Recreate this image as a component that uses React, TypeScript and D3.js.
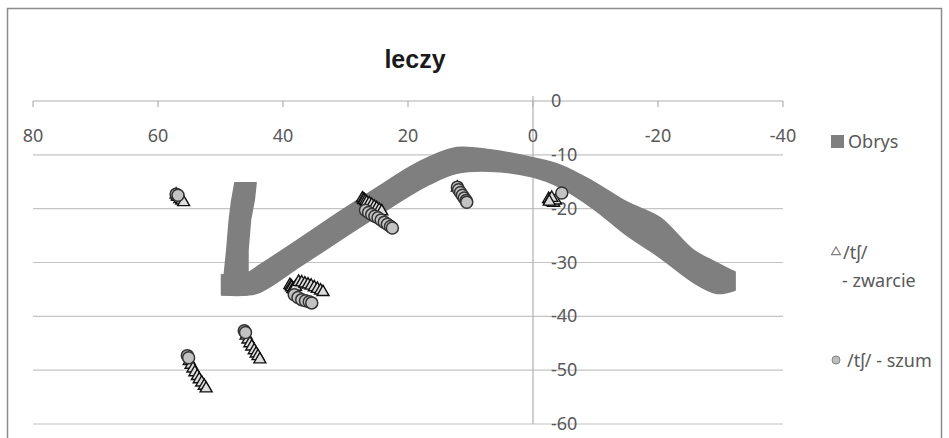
import * as d3 from 'd3'

const W = 949
const H = 438

// axis ticks
const xTicks = [80, 60, 40, 20, 0, -20, -40]
const yTicks = [0, -10, -20, -30, -40, -50, -60]

// Obrys – tongue contour band (x, upper edge, lower edge)
const obrysX = [49.8, 45.8, 43.7, 37.3, 30.9, 24.5, 19.7, 16.5, 12.2, 6.9, 0, -4.3, -9.6, -15.0, -20.3, -25.6, -29.4, -32.3]
const obrysTop = [-32.3, -32.0, -30.5, -25.6, -20.6, -15.8, -12.3, -10.4, -8.7, -9.1, -10.6, -11.9, -15.0, -18.8, -21.7, -27.7, -30.1, -31.8]
const obrysBottom = [-36.0, -36.0, -35.5, -30.7, -25.8, -21.0, -17.5, -15.4, -13.4, -13.0, -14.1, -16.0, -19.9, -24.9, -29.0, -33.6, -35.7, -35.1]

// Obrys – vertical arm (y, left edge, right edge)
const armY = [-15.2, -18.4, -22.1, -27.7, -32.3, -36.0]
const armLeft = [47.7, 48.2, 48.6, 49.0, 49.4, 49.8]
const armRight = [44.3, 44.6, 45.2, 45.6, 45.6, 45.6]

// /tʃ/ - zwarcie (triangles)
const zwarcie: [number, number][] = [
  [57.1, -17.4], [56.9, -17.7], [56.8, -17.8], [56.5, -18.2], [56.2, -18.5], [55.9, -18.8],
  [45.9, -43.6], [45.6, -44.3], [45.3, -45.0], [45.0, -45.6], [44.6, -46.3], [44.3, -46.9], [44.0, -47.4], [43.7, -48.0],
  [55.0, -48.3], [54.7, -49.0], [54.4, -49.7], [54.1, -50.4], [53.7, -51.1], [53.4, -51.7], [53.0, -52.3], [52.6, -52.9], [52.3, -53.4],
  [38.9, -34.2], [38.7, -34.4], [38.6, -34.6], [38.4, -34.9], [38.3, -35.0], [38.0, -34.5], [37.5, -33.6], [37.0, -33.7], [36.5, -33.9], [36.0, -34.1],
  [35.5, -34.3], [35.0, -34.6], [34.5, -34.9], [34.0, -35.2], [33.6, -35.5],
  [27.3, -18.1], [27.1, -18.3], [27.0, -18.4], [26.8, -18.6], [26.6, -18.8], [26.2, -19.0], [25.8, -19.3], [25.4, -19.6], [25.0, -19.9], [24.6, -20.2], [24.2, -20.5],
  [12.1, -16.1],
  [-2.5, -18.2], [-2.7, -18.4], [-2.9, -18.6], [-3.1, -18.8], [-3.3, -18.9], [-3.6, -18.5], [-3.0, -18.0], [-2.6, -18.7],
]

// /tʃ/ - szum (circles)
const szum: [number, number][] = [
  [57.1, -17.3], [56.8, -17.5],
  [46.2, -42.7], [46.0, -43.0],
  [55.3, -47.3], [55.1, -47.7],
  [38.2, -36.0], [37.6, -36.5], [37.0, -36.9], [36.4, -37.1], [35.8, -37.3], [35.4, -37.5],
  [26.8, -20.3], [26.3, -20.7], [25.8, -21.1], [25.3, -21.4], [24.8, -21.7], [24.3, -22.1], [23.8, -22.5], [23.3, -22.9], [22.8, -23.3], [22.5, -23.6],
  [12.1, -16.0], [11.9, -16.5], [11.6, -17.0], [11.3, -17.5], [11.0, -18.0], [10.7, -18.5], [10.6, -18.8],
  [-4.6, -17.1],
]

const FONT = '"Noto Sans", "Open Sans", sans-serif'
const LABEL = '#595959'
const GRID = '#c4c4c4'

export default function App() {
  const x = d3.scaleLinear().domain([80, -40]).range([33, 783])
  const y = d3.scaleLinear().domain([0, -60]).range([101, 424])

  const band = d3.area<number>()
    .x((_, i) => x(obrysX[i]))
    .y0((_, i) => y(obrysBottom[i]))
    .y1((_, i) => y(obrysTop[i]))
    .curve(d3.curveCatmullRom.alpha(0.5))
  const arm = d3.area<number>()
    .y((_, i) => y(armY[i]))
    .x0((_, i) => x(armLeft[i]))
    .x1((_, i) => x(armRight[i]))
    .curve(d3.curveLinear)

  const tri = d3.symbol().type(d3.symbolTriangle).size(62)()
  const legendTri = d3.symbol().type(d3.symbolTriangle).size(34)()

  return (
    <svg width={W} height={H} style={{ position: 'absolute', left: 0, top: 0, background: '#fff' }}>
      <rect x={7.5} y={8.5} width={934} height={440} fill="#fff" stroke="#8c8c8c" strokeWidth={1.5} />

      <text x={415} y={68} textAnchor="middle" fontFamily='"Liberation Sans", Arial, sans-serif'
        fontWeight="bold" fontSize={25} fill="#1a1a1a">leczy</text>

      {/* gridlines */}
      {yTicks.filter(t => t !== 0).map(t => (
        <line key={t} x1={x(80)} x2={x(-40)} y1={y(t)} y2={y(t)} stroke={GRID} strokeWidth={1.2} />
      ))}
      {/* x axis */}
      <line x1={x(80)} x2={x(-40)} y1={y(0)} y2={y(0)} stroke="#b0b0b0" strokeWidth={1.2} />
      {xTicks.map(t => (
        <line key={t} x1={x(t)} x2={x(t)} y1={y(0)} y2={y(0) + 6} stroke="#b0b0b0" strokeWidth={1.2} />
      ))}
      {/* y axis */}
      <line x1={x(0)} x2={x(0)} y1={y(0) - 5} y2={y(-60)} stroke="#b0b0b0" strokeWidth={1.2} />

      {xTicks.map(t => (
        <text key={t} x={x(t)} y={142} textAnchor="middle" fontFamily={FONT} fontSize={18} fill={LABEL}>{t}</text>
      ))}

      {/* Obrys */}
      <path d={arm(armY.map((_, i) => i)) ?? ''} fill="#7f7f7f" stroke="#7f7f7f" strokeWidth={1.5} strokeLinejoin="round" />
      <path d={band(obrysX.map((_, i) => i)) ?? ''} fill="#7f7f7f" stroke="#7f7f7f" strokeWidth={2} strokeLinejoin="round" />

      {yTicks.map(t => (
        <text key={t} x={551} y={y(t) + 6} fontFamily={FONT} fontSize={18} fill={LABEL}>{t}</text>
      ))}

      {/* zwarcie */}
      {zwarcie.map((d, i) => (
        <path key={i} d={tri ?? ''} transform={`translate(${x(d[0])},${y(d[1])})`}
          fill="#dedede" stroke="#111" strokeWidth={1.4} />
      ))}
      {/* szum */}
      {szum.map((d, i) => (
        <circle key={i} cx={x(d[0])} cy={y(d[1])} r={6} fill="#c3c3c3" stroke="#333" strokeWidth={1.5} />
      ))}

      {/* legend */}
      <rect x={831} y={135} width={13} height={13} fill="#7f7f7f" />
      <text x={848} y={148} fontFamily={FONT} fontSize={18} fill={LABEL}>Obrys</text>

      <path d={legendTri ?? ''} transform="translate(836,252)" fill="#fff" stroke="#808080" strokeWidth={1.2} />
      <text x={843} y={259} fontFamily={FONT} fontSize={18} fill={LABEL}>/tʃ/</text>
      <text x={842} y={287} fontFamily={FONT} fontSize={18} fill={LABEL}>- zwarcie</text>

      <circle cx={836} cy={360} r={4} fill="#bfbfbf" stroke="#808080" strokeWidth={1} />
      <text x={847} y={367} fontFamily={FONT} fontSize={18} fill={LABEL}>/tʃ/ - szum</text>
    </svg>
  )
}
